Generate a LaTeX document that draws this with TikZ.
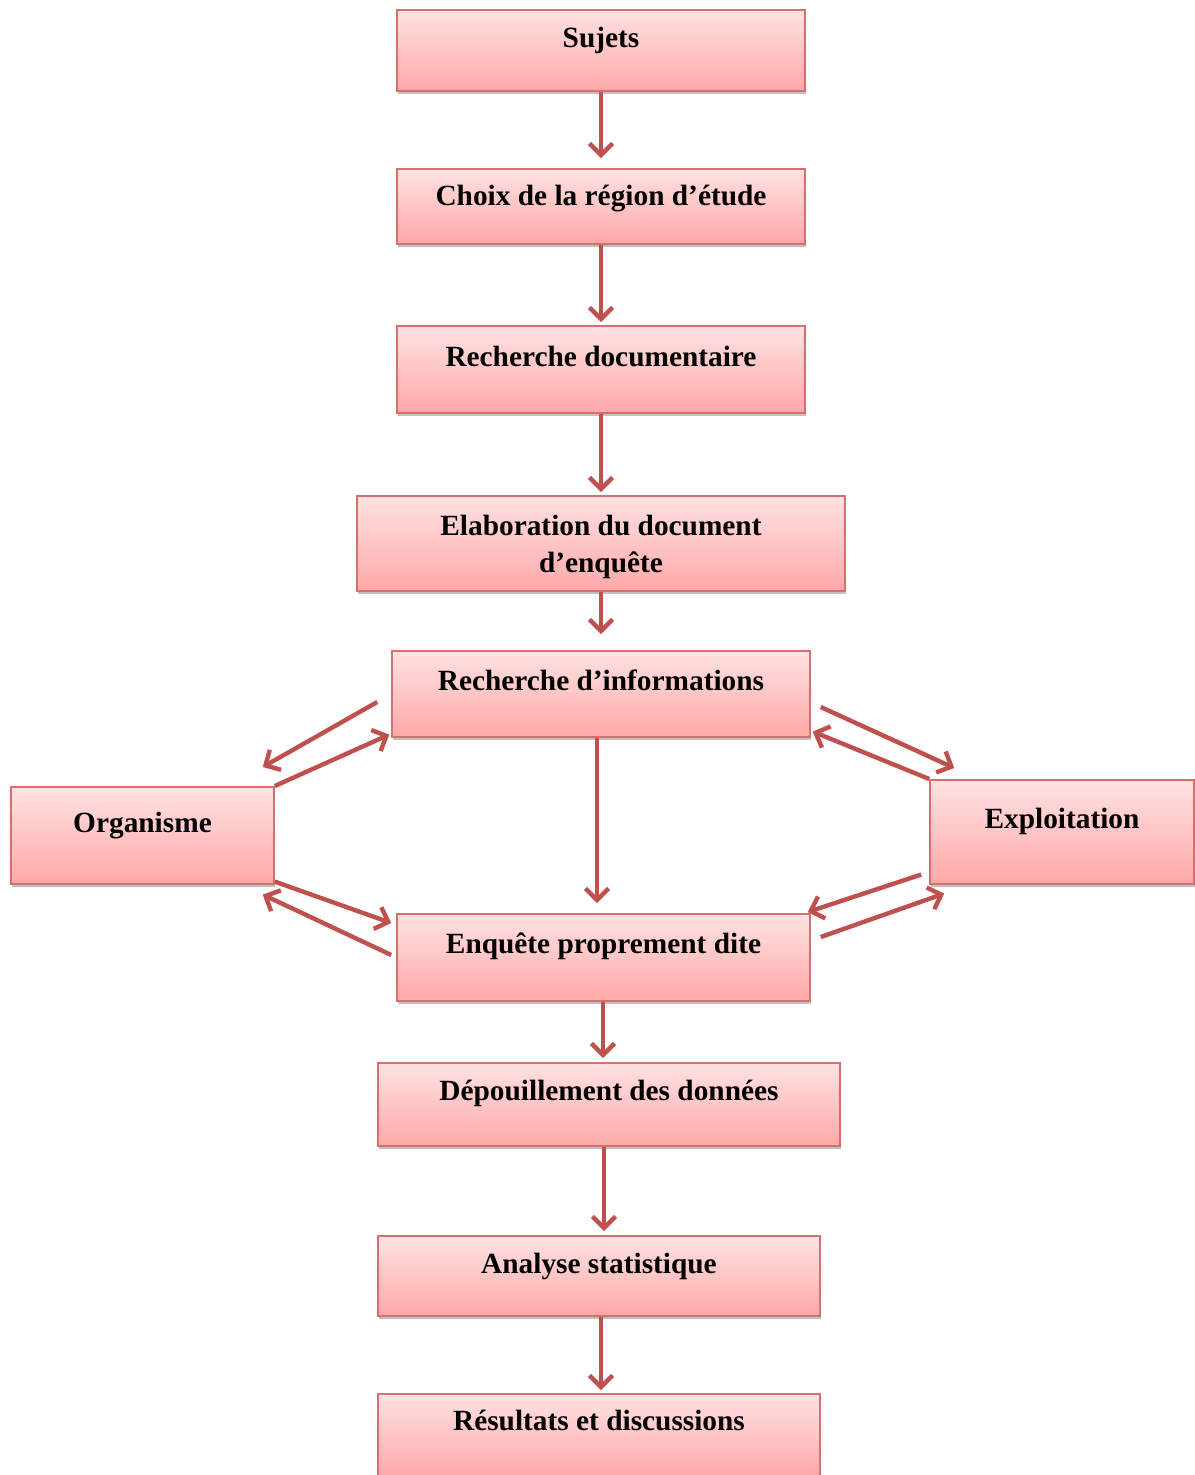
\documentclass[tikz,border=0pt]{standalone}
\usepackage{fontspec}
\setmainfont{Liberation Serif}
\usetikzlibrary{arrows.meta,shadows}
\definecolor{boxtop}{RGB}{255,226,226}
\definecolor{boxbot}{RGB}{255,168,168}
\definecolor{boxline}{RGB}{214,112,112}
\definecolor{arrowred}{RGB}{192,80,77}
\begin{document}
\begin{tikzpicture}[x=0.02cm,y=-0.02cm,
  box/.style={draw=boxline, line width=0.9pt, top color=boxtop, bottom color=boxbot,
    inner sep=0pt, anchor=north, align=center,
    font=\fontsize{16.7}{21}\selectfont\bfseries,
    drop shadow={shadow xshift=0.6pt, shadow yshift=-1.6pt, opacity=0.35, fill=black!70}},
  arr/.style={draw=arrowred, line width=2.5pt, -{Straight Barb[length=2.3mm,width=4.6mm]}}]
\useasboundingbox (0,0) rectangle (1195,1475);

\node[box, minimum width=8.16cm, text height=0.76cm, text depth=0.86cm] (suj) at (601,9) {Sujets};
\node[box, minimum width=8.16cm, text height=0.74cm, text depth=0.76cm] (cho) at (601,168) {Choix de la région d’étude};
\node[box, minimum width=8.16cm, text height=0.82cm, text depth=0.92cm] (rdoc) at (601,325) {Recherche documentaire};
\node[box, minimum width=9.76cm, text height=1.54cm, text depth=0.36cm] (elab) at (601,495) {Elaboration du document\\d’enquête};
\node[box, minimum width=8.36cm, text height=0.80cm, text depth=0.92cm] (rinf) at (601,650) {Recherche d’informations};
\node[box, minimum width=5.26cm, text height=0.92cm, text depth=1.02cm] (org) at (142.5,786) {Organisme};
\node[box, minimum width=5.28cm, text height=0.98cm, text depth=1.10cm] (exp) at (1062,779) {Exploitation};
\node[box, minimum width=8.26cm, text height=0.80cm, text depth=0.94cm] (enq) at (603.5,913) {Enquête proprement dite};
\node[box, minimum width=9.24cm, text height=0.76cm, text depth=0.90cm] (dep) at (609,1062) {Dépouillement des données};
\node[box, minimum width=8.84cm, text height=0.76cm, text depth=0.84cm] (ana) at (599,1235) {Analyse statistique};
\node[box, minimum width=8.84cm, text height=0.74cm, text depth=0.90cm] (res) at (599,1393) {Résultats et discussions};

% vertical flow
\draw[arr, shorten >=0.2cm] (suj.south) -- (suj.south |- cho.north);
\draw[arr, shorten >=0.06cm] (cho.south) -- (cho.south |- rdoc.north);
\draw[arr, shorten >=0.06cm] (rdoc.south) -- (rdoc.south |- elab.north);
\draw[arr, shorten >=0.32cm] (elab.south) -- (elab.south |- rinf.north);
\draw[arr, shorten >=0.2cm] ([xshift=-0.08cm]rinf.south) -- ([xshift=-0.08cm]rinf.south |- enq.north);
\draw[arr, shorten >=0.08cm] ([xshift=-0.01cm]enq.south) -- ([xshift=-0.01cm]enq.south |- dep.north);
\draw[arr, shorten >=0.08cm] ([xshift=-0.10cm]dep.south) -- ([xshift=-0.10cm]dep.south |- ana.north);
\draw[arr, shorten >=0.06cm] ([xshift=0.04cm]ana.south) -- ([xshift=0.04cm]ana.south |- res.north);

% left side
\draw[arr] ([xshift=-0.28cm,yshift=-1.04cm]rinf.north west) -- ([xshift=-0.24cm,yshift=0.38cm]org.north east);
\draw[arr] (org.north east) -- ([xshift=-0.04cm,yshift=0.06cm]rinf.south west);
\draw[arr] ([yshift=0.06cm]org.south east) -- ([xshift=-0.10cm,yshift=-0.20cm]enq.north west);
\draw[arr] ([xshift=-0.10cm,yshift=-0.84cm]enq.north west) -- ([xshift=-0.24cm,yshift=-0.20cm]org.south east);

% right side
\draw[arr] ([xshift=0.20cm,yshift=-1.14cm]rinf.north east) -- ([xshift=0.50cm,yshift=0.22cm]exp.north west);
\draw[arr] (exp.north west) -- ([xshift=0.04cm,yshift=0.12cm]rinf.south east);
\draw[arr] ([xshift=-0.16cm,yshift=0.20cm]exp.south west) -- ([xshift=-0.06cm,yshift=0.02cm]enq.north east);
\draw[arr] ([xshift=0.20cm,yshift=-0.48cm]enq.north east) -- ([xshift=0.30cm,yshift=-0.18cm]exp.south west);
\end{tikzpicture}
\end{document}
